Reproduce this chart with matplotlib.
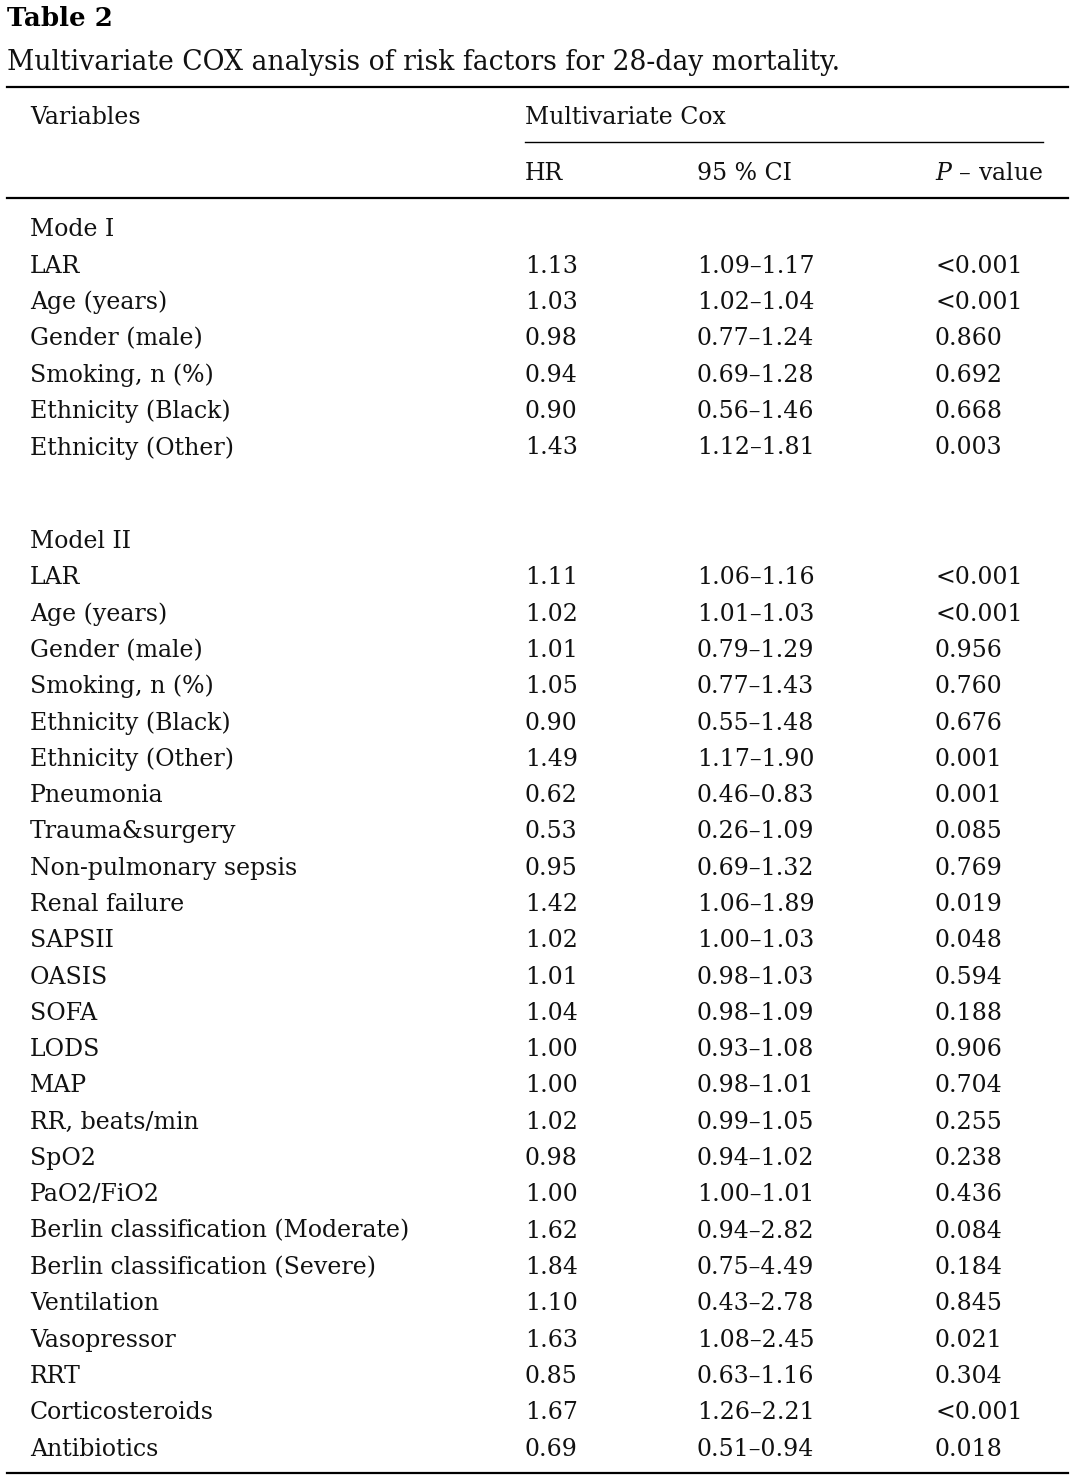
import matplotlib.pyplot as plt

plt.rcParams["mathtext.fontset"] = "custom"
plt.rcParams["mathtext.it"] = "DejaVu Serif:italic"
plt.rcParams["mathtext.rm"] = "DejaVu Serif"

# Table 2 data
model1_vars = ["LAR", "Age (years)", "Gender (male)", "Smoking, n (%)",
               "Ethnicity (Black)", "Ethnicity (Other)"]
model1_hr = ["1.13", "1.03", "0.98", "0.94", "0.90", "1.43"]
model1_ci = ["1.09–1.17", "1.02–1.04", "0.77–1.24", "0.69–1.28", "0.56–1.46", "1.12–1.81"]
model1_p = ["<0.001", "<0.001", "0.860", "0.692", "0.668", "0.003"]

model2_vars = ["LAR", "Age (years)", "Gender (male)", "Smoking, n (%)",
               "Ethnicity (Black)", "Ethnicity (Other)", "Pneumonia", "Trauma&surgery",
               "Non-pulmonary sepsis", "Renal failure", "SAPSII", "OASIS", "SOFA", "LODS",
               "MAP", "RR, beats/min", "SpO2", "PaO2/FiO2",
               "Berlin classification (Moderate)", "Berlin classification (Severe)",
               "Ventilation", "Vasopressor", "RRT", "Corticosteroids", "Antibiotics"]
model2_hr = ["1.11", "1.02", "1.01", "1.05", "0.90", "1.49", "0.62", "0.53", "0.95", "1.42",
             "1.02", "1.01", "1.04", "1.00", "1.00", "1.02", "0.98", "1.00", "1.62", "1.84",
             "1.10", "1.63", "0.85", "1.67", "0.69"]
model2_ci = ["1.06–1.16", "1.01–1.03", "0.79–1.29", "0.77–1.43", "0.55–1.48", "1.17–1.90",
             "0.46–0.83", "0.26–1.09", "0.69–1.32", "1.06–1.89", "1.00–1.03", "0.98–1.03",
             "0.98–1.09", "0.93–1.08", "0.98–1.01", "0.99–1.05", "0.94–1.02", "1.00–1.01",
             "0.94–2.82", "0.75–4.49", "0.43–2.78", "1.08–2.45", "0.63–1.16", "1.26–2.21",
             "0.51–0.94"]
model2_p = ["<0.001", "<0.001", "0.956", "0.760", "0.676", "0.001", "0.001", "0.085", "0.769",
            "0.019", "0.048", "0.594", "0.188", "0.906", "0.704", "0.255", "0.238", "0.436",
            "0.084", "0.184", "0.845", "0.021", "0.304", "<0.001", "0.018"]

W, H = 1080, 1481
fig = plt.figure(figsize=(W / 100, H / 100), dpi=100)
ax = fig.add_axes([0, 0, 1, 1])
ax.set_xlim(0, W)
ax.set_ylim(H, 0)
ax.axis("off")

serif = "DejaVu Serif"
fs = 17
col_x = [30, 525, 697, 935]
txt = dict(family=serif, fontsize=fs, va="center", color="#111111")

ax.text(7, 19, "Table 2", family=serif, fontsize=18.8, fontweight="bold", va="center")
ax.text(7, 63, "Multivariate COX analysis of risk factors for 28-day mortality.",
        family=serif, fontsize=19.15, va="center", color="#111111")

ax.plot([7, 1068], [87, 87], color="black", lw=1.6)
ax.text(col_x[0], 118, "Variables", **txt)
ax.text(col_x[1], 118, "Multivariate Cox", **txt)
ax.plot([525, 1043], [142, 142], color="black", lw=1.0)
ax.text(col_x[1], 173, "HR", **txt)
ax.text(col_x[2], 173, "95 % CI", **txt)
ax.text(1043, 173, "$\\it{P}$ – value", ha="right", family=serif, fontsize=fs,
        va="center", color="#111111")
ax.plot([7, 1068], [198, 198], color="black", lw=1.6)

pitch = 36.3


def draw_block(y0, title, names, hr, ci, p):
    ax.text(col_x[0], y0, title, **txt)
    for i in range(len(names)):
        y = y0 + pitch * (i + 1)
        ax.text(col_x[0], y, names[i], **txt)
        ax.text(col_x[1], y, hr[i], **txt)
        ax.text(col_x[2], y, ci[i], **txt)
        ax.text(col_x[3], y, p[i], **txt)


draw_block(230, "Mode I", model1_vars, model1_hr, model1_ci, model1_p)
draw_block(541.5, "Model II", model2_vars, model2_hr, model2_ci, model2_p)

ax.plot([7, 1068], [1473, 1473], color="black", lw=1.6)

fig.savefig("out.png", dpi=100)
